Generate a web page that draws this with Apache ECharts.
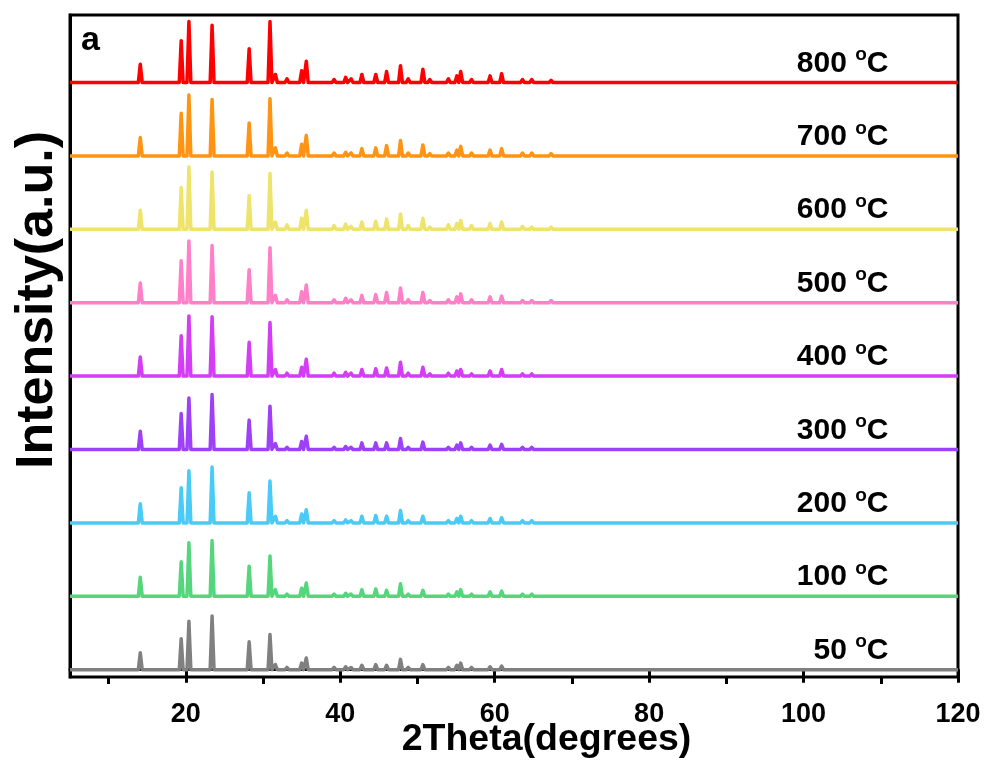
<!DOCTYPE html>
<html>
<head>
<meta charset="utf-8">
<script src="https://cdn.jsdelivr.net/npm/echarts@6/dist/echarts.min.js"></script>
<style>
  html, body { margin: 0; padding: 0; background: #fff; }
  #chart { width: 987px; height: 762px; }
</style>
</head>
<body>
<div id="chart"></div>
<script>
// sample temperatures, bottom to top
const temps = ['50', '100', '200', '300', '400', '500', '600', '700', '800']
const colors = ['#808080', '#55D67D', '#48CBF7', '#9D40F7', '#D43DF5', '#FF80C8', '#EEE46A', '#FF9412', '#FF0000']

// vertical offset of each pattern (a.u.)
const offsets = [0, 100, 200, 300, 400, 500, 600, 700, 800]

// reflection positions (2theta, degrees)
const peakPos = [14.1, 19.4, 20.4, 23.4, 28.2, 30.9, 31.6, 33.1, 35.0, 35.6, 39.2, 40.7, 41.4, 42.8, 44.6, 46.0, 47.8, 48.8, 50.7, 51.6, 54.0, 55.1, 55.6, 57.0, 59.4, 60.9, 63.6, 64.8, 67.3, 71.2, 75.3, 78.8, 84.3]

// peak heights above baseline for each temperature (a.u.)
const h50  = [23, 42, 66, 73, 38, 48, 7, 3, 9, 16, 3, 4, 3, 6, 7, 6, 14, 3, 7, 2, 3, 6, 9, 3, 4, 5, 2, 2, 2, 1, 1, 1, 1]
const h100 = [26, 47, 73, 76, 41, 55, 9, 3, 11, 18, 3, 4, 3, 9, 10, 8, 17, 3, 8, 2, 3, 6, 9, 3, 6, 7, 3, 3, 2, 2, 1, 1, 1]
const h200 = [26, 48, 71, 76, 41, 57, 9, 3, 12, 18, 3, 4, 3, 9, 10, 9, 17, 3, 9, 2, 3, 6, 9, 3, 6, 7, 3, 3, 2, 2, 1, 1, 1]
const h300 = [25, 49, 70, 75, 40, 59, 8, 3, 11, 18, 3, 4, 3, 9, 9, 9, 15, 3, 10, 2, 3, 6, 9, 3, 6, 7, 3, 3, 2, 2, 1, 1, 1]
const h400 = [26, 55, 82, 81, 46, 73, 9, 4, 12, 23, 4, 5, 4, 9, 10, 11, 19, 4, 12, 3, 4, 7, 9, 3, 7, 9, 3, 3, 2, 2, 1, 1, 1]
const h500 = [27, 57, 84, 78, 45, 75, 10, 4, 15, 24, 4, 6, 4, 10, 11, 14, 20, 4, 14, 3, 4, 8, 12, 4, 8, 9, 3, 3, 3, 2, 2, 1, 1]
const h600 = [26, 57, 85, 78, 46, 76, 10, 6, 15, 26, 5, 7, 4, 10, 11, 14, 21, 5, 15, 3, 6, 8, 12, 5, 8, 10, 4, 3, 3, 2, 2, 1, 1]
const h700 = [25, 58, 83, 77, 45, 78, 11, 4, 16, 28, 4, 5, 4, 10, 11, 14, 21, 4, 15, 3, 4, 8, 13, 4, 8, 10, 4, 4, 3, 2, 2, 2, 1]
const h800 = [25, 57, 83, 78, 46, 83, 11, 5, 16, 29, 4, 7, 5, 11, 11, 15, 23, 5, 18, 4, 5, 9, 15, 4, 9, 12, 4, 4, 3, 2, 2, 2, 2]
const heights = [h50, h100, h200, h300, h400, h500, h600, h700, h800]

// x axis ticks
const majorTicks = [20, 40, 60, 80, 100, 120]
const minorTicks = [10, 30, 50, 70, 90, 110]

const xMin = 5
const xMax = 120
const halfWidth = 0.25
const font = '"Liberation Sans", Arial, sans-serif'

// baseline with a narrow peak at every reflection
const buildPattern = (hs, off) => {
  const pts = [[xMin, off]]
  peakPos.forEach((p, i) => {
    pts.push([p - halfWidth, off])
    pts.push([p, off + hs[i]])
    pts.push([p + halfWidth, off])
  })
  pts.push([xMax, off])
  return pts
}

const series = temps.map((t, i) => ({
  name: t + ' °C',
  type: 'line',
  data: buildPattern(heights[i], offsets[i]),
  showSymbol: false,
  animation: false,
  lineStyle: { color: colors[i], width: 3.5, join: 'round' },
  itemStyle: { color: colors[i] },
  markPoint: {
    symbol: 'circle',
    symbolSize: 0,
    silent: true,
    animation: false,
    data: [{ coord: [111, offsets[i] + 26] }],
    label: {
      show: true,
      position: 'left',
      distance: 0,
      formatter: '{n|' + t + ' }{s|o}{n|C}',
      rich: {
        n: { fontFamily: font, fontWeight: 'bold', fontSize: 30, color: '#000' },
        s: { fontFamily: font, fontWeight: 'bold', fontSize: 19, color: '#000', padding: [0, 0, 17, 0] }
      }
    }
  }
}))

const chart = echarts.init(document.getElementById('chart'))

chart.setOption({
  backgroundColor: '#fff',
  animation: false,
  grid: {
    left: 70,
    right: 29,
    top: 15,
    bottom: 85,
    containLabel: false,
    outerBoundsMode: 'none',
    show: true,
    borderColor: '#000',
    borderWidth: 3,
    backgroundColor: 'transparent'
  },
  xAxis: [{
    type: 'value',
    min: xMin,
    max: xMax,
    position: 'bottom',
    name: '2Theta(degrees)',
    nameLocation: 'middle',
    nameGap: 44,
    nameMoveOverlap: false,
    nameTextStyle: { fontFamily: font, fontWeight: 'bold', fontSize: 37.5, color: '#000', padding: [0, 0, 0, 65] },
    axisLine: { lineStyle: { color: '#000', width: 3 } },
    axisTick: { customValues: majorTicks, length: 13, lineStyle: { color: '#000', width: 3 } },
    axisLabel: { customValues: majorTicks, fontFamily: font, fontWeight: 'bold', fontSize: 27, color: '#000', margin: 24 },
    splitLine: { show: false }
  }, {
    type: 'value',
    min: xMin,
    max: xMax,
    position: 'bottom',
    axisLine: { show: false },
    axisTick: { customValues: minorTicks, length: 7, lineStyle: { color: '#000', width: 3 } },
    axisLabel: { show: false },
    splitLine: { show: false }
  }],
  yAxis: {
    type: 'value',
    min: -10,
    max: 892,
    name: 'Intensity(a.u.)',
    nameLocation: 'middle',
    nameGap: 6,
    nameMoveOverlap: false,
    nameTextStyle: { fontFamily: font, fontWeight: 'bold', fontSize: 52, color: '#000', padding: [0, 0, 0, 92] },
    axisLine: { show: true, lineStyle: { color: '#000', width: 3 } },
    axisTick: { show: false },
    axisLabel: { show: false },
    splitLine: { show: false }
  },
  graphic: [{
    type: 'text',
    left: 81,
    top: 24,
    style: { text: 'a', font: 'bold 34px ' + font, fill: '#000' }
  }],
  series: series
})
</script>
</body>
</html>
